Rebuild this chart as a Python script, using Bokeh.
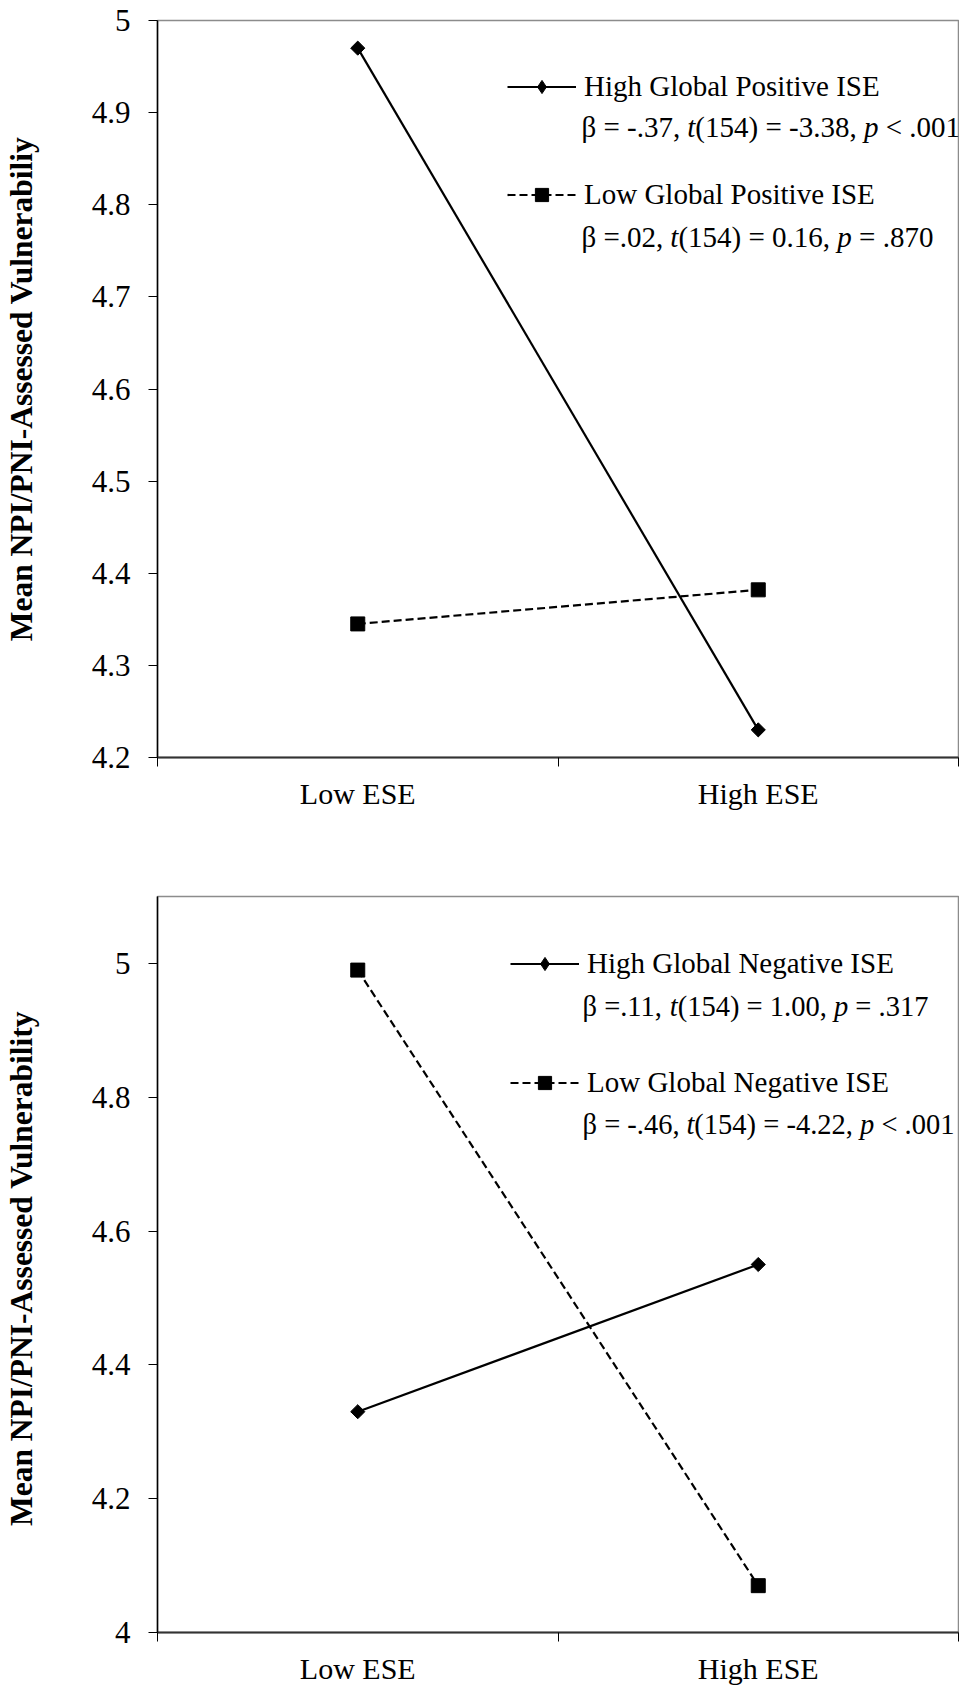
import math
from bokeh.plotting import figure
from bokeh.layouts import column
from bokeh.models import (Range1d, FixedTicker, CustomJSTickFormatter, Legend,
                          LegendItem, Label)
from bokeh.embed import file_html
from bokeh.resources import INLINE

# ---------------- data ----------------
categories = ["Low ESE", "High ESE"]

top_y_title = "Mean NPI/PNI-Assessed Vulnerabiliy"
top_y_limits = [4.2, 5.0]
top_y_ticks = [4.2, 4.3, 4.4, 4.5, 4.6, 4.7, 4.8, 4.9, 5.0]
top_high_label = "High Global Positive ISE"
top_high_values = [4.97, 4.23]
top_high_stats = [("β = -.37, ", False), ("t", True), ("(154) = -3.38, ", False),
                  ("p", True), (" < .001", False)]
top_low_label = "Low Global Positive ISE"
top_low_values = [4.345, 4.382]
top_low_stats = [("β =.02, ", False), ("t", True), ("(154) = 0.16, ", False),
                 ("p", True), (" = .870", False)]

bottom_y_title = "Mean NPI/PNI-Assessed  Vulnerability"
bottom_y_limits = [4.0, 5.1]
bottom_y_ticks = [4.0, 4.2, 4.4, 4.6, 4.8, 5.0]
bottom_high_label = "High Global Negative ISE"
bottom_high_values = [4.33, 4.55]
bottom_high_stats = [("β =.11, ", False), ("t", True), ("(154) = 1.00, ", False),
                     ("p", True), (" = .317", False)]
bottom_low_label = "Low Global Negative ISE"
bottom_low_values = [4.99, 4.07]
bottom_low_stats = [("β = -.46, ", False), ("t", True), ("(154) = -4.22, ", False),
                    ("p", True), (" < .001", False)]

# ---------------- styling helpers ----------------
FONT = "Liberation Serif"
W_REG = {" ": 250, "=": 564, "-": 333, ".": 250, ",": 250, "(": 333, ")": 333,
         "<": 564, "β": 500}
W_IT = {"t": 278, "p": 500}


def text_width(s, italic, size):
    tot = 0
    for ch in s:
        if italic and ch in W_IT:
            tot += W_IT[ch]
        elif ch.isdigit():
            tot += 500
        else:
            tot += W_REG.get(ch, 500)
    return tot * size / 1000.0


def add_stats(p, segs, x0, y, size):
    offset = 0.0
    for txt, italic in segs:
        lead = len(txt) - len(txt.lstrip(" "))
        shown = txt.strip(" ")
        x = x0 + offset + text_width(" " * lead, italic, size)
        p.add_layout(Label(x=x, y=y, x_units="screen", y_units="screen", text=shown,
                           text_font=FONT, text_font_size=f"{size}px",
                           text_font_style="italic" if italic else "normal",
                           text_color="black", text_baseline="middle",
                           text_align="left"))
        offset += text_width(txt, italic, size)


def make_panel(height, border_top, border_bottom, limits, y_ticks, y_title,
               high_label, high_vals, high_stats, low_label, low_vals, low_stats,
               legend_loc, legend_spacing, stats_x, stats_y, stats_size):
    n = len(categories)
    p = figure(width=959, height=height, output_backend="svg", toolbar_location=None,
               x_range=Range1d(0, n), y_range=Range1d(limits[0], limits[1]),
               min_border_left=150, min_border_right=1,
               min_border_top=border_top, min_border_bottom=border_bottom)
    p.grid.visible = False
    p.outline_line_color = "#8c8c8c"
    p.outline_line_width = 1.5
    p.background_fill_color = "white"
    p.border_fill_color = "white"

    xs = [i + 0.5 for i in range(n)]
    l_high = p.line(xs, high_vals, line_color="black", line_width=2.2)
    p.scatter(xs, high_vals, marker="square", angle=math.pi / 4, size=10,
              fill_color="black", line_color="black")
    l_low = p.line(xs, low_vals, line_color="black", line_width=2.2, line_dash="8 4")
    m_low = p.scatter(xs, low_vals, marker="square", size=14,
                      fill_color="black", line_color="black")
    # legend-only diamond sample (not a data point: NaN position, never drawn in the plot)
    leg_diamond = p.scatter(x=[float("nan")], y=[float("nan")], marker="diamond",
                            size=14, fill_color="black", line_color="black",
                            line_width=1)

    xa = p.xaxis[0]
    xa.ticker = FixedTicker(ticks=xs, minor_ticks=list(range(n + 1)))
    xa.formatter = CustomJSTickFormatter(
        args=dict(cats=categories),
        code="const i = Math.floor(tick); return (i >= 0 && i < cats.length) ? cats[i] : '';")
    xa.major_tick_out = 0
    xa.major_tick_in = 0
    xa.minor_tick_out = 9
    xa.minor_tick_in = 0
    xa.minor_tick_line_color = "black"
    xa.minor_tick_line_width = 1
    xa.axis_line_color = "#333333"
    xa.axis_line_width = 2
    xa.major_label_text_font = FONT
    xa.major_label_text_font_size = "30px"
    xa.major_label_text_color = "black"
    xa.major_label_standoff = 10

    ya = p.yaxis[0]
    ya.ticker = FixedTicker(ticks=y_ticks, minor_ticks=[])
    ya.formatter = CustomJSTickFormatter(code="return String(Math.round(tick * 100) / 100);")
    ya.major_tick_out = 9
    ya.major_tick_in = 0
    ya.minor_tick_out = 0
    ya.minor_tick_in = 0
    ya.major_tick_line_color = "black"
    ya.axis_line_color = "black"
    ya.axis_line_width = 1.5
    ya.major_label_text_font = FONT
    ya.major_label_text_font_size = "31px"
    ya.major_label_text_color = "black"
    ya.major_label_standoff = 18
    ya.axis_label = y_title
    ya.axis_label_text_font = FONT
    ya.axis_label_text_font_style = "bold"
    ya.axis_label_text_font_size = "31.5px"
    ya.axis_label_text_color = "black"
    ya.axis_label_standoff = 50

    leg = Legend(items=[LegendItem(label=high_label, renderers=[l_high, leg_diamond]),
                        LegendItem(label=low_label, renderers=[l_low, m_low])],
                 location=legend_loc, glyph_width=69, glyph_height=33, label_height=33,
                 label_standoff=8, spacing=legend_spacing, padding=0, margin=0,
                 border_line_color=None, background_fill_alpha=0,
                 label_text_font=FONT, label_text_font_size="29px",
                 label_text_color="black")
    p.add_layout(leg)

    add_stats(p, high_stats, stats_x, stats_y[0], stats_size)
    add_stats(p, low_stats, stats_x, stats_y[1], stats_size)
    return p


top = make_panel(868, 20, 111, top_y_limits, top_y_ticks, top_y_title,
                 top_high_label, top_high_values, top_high_stats,
                 top_low_label, top_low_values, top_low_stats,
                 legend_loc=(350, 546), legend_spacing=75,
                 stats_x=424, stats_y=(631, 521), stats_size=29)

bottom = make_panel(819, 28, 54, bottom_y_limits, bottom_y_ticks, bottom_y_title,
                    bottom_high_label, bottom_high_values, bottom_high_stats,
                    bottom_low_label, bottom_low_values, bottom_low_stats,
                    legend_loc=(353, 533), legend_spacing=86,
                    stats_x=425, stats_y=(626, 508), stats_size=28.5)

layout = column(top, bottom, spacing=0)
open("out.html", "w").write(file_html(layout, INLINE))
